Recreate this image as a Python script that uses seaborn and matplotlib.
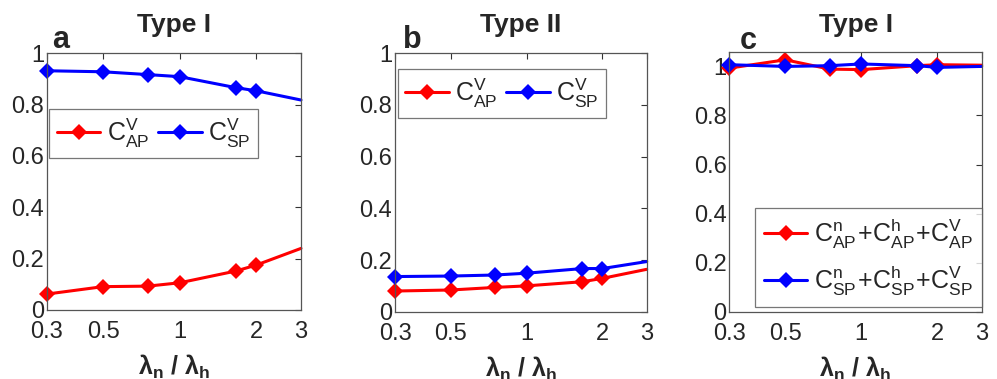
import numpy as np
import pandas as pd
import matplotlib
matplotlib.use('Agg')
import matplotlib.pyplot as plt
import seaborn as sns

# ratio lambda_n / lambda_h
ratio = [0.3, 0.5, 0.75, 1.0, 1.667, 2.0, 3.0]

# panel a (Type I)
a_ap = [0.062, 0.091, 0.093, 0.106, 0.152, 0.175, 0.240]
a_sp = [0.932, 0.928, 0.917, 0.909, 0.866, 0.854, 0.818]
# panel b (Type II)
b_ap = [0.080, 0.084, 0.094, 0.100, 0.116, 0.129, 0.164]
b_sp = [0.136, 0.138, 0.142, 0.149, 0.167, 0.167, 0.194]
# panel c (Type I, sums)
c_ap = [0.993, 1.027, 0.989, 0.987, 1.003, 1.007, 1.005]
c_sp = [1.007, 1.000, 1.003, 1.010, 1.003, 0.996, 1.000]

titles = ['Type I', 'Type II', 'Type I']
letters = ['a', 'b', 'c']
xticks = [0.3, 0.5, 1, 2, 3]
xticklabels = ['0.3', '0.5', '1', '2', '3']
yticks = [0, 0.2, 0.4, 0.6, 0.8, 1]
yticklabels = ['0', '0.2', '0.4', '0.6', '0.8', '1']

lab_v = [r'$\mathregular{C^V_{AP}}$', r'$\mathregular{C^V_{SP}}$']
lab_sum = [r'$\mathregular{C^n_{AP}\!+\!C^h_{AP}\!+\!C^V_{AP}}$',
           r'$\mathregular{C^n_{SP}\!+\!C^h_{SP}\!+\!C^V_{SP}}$']

sns.set_style('white')
plt.rcParams['font.family'] = ['Liberation Sans', 'DejaVu Sans']
plt.rcParams['mathtext.fontset'] = 'custom'
plt.rcParams['mathtext.rm'] = 'Liberation Sans'
plt.rcParams['mathtext.it'] = 'Liberation Sans:italic'
plt.rcParams['mathtext.bf'] = 'Liberation Sans:bold'

W, H = 997, 379
fig = plt.figure(figsize=(W / 100, H / 100), dpi=100)

# axes boxes in pixels: left, top, right, bottom
boxes = [(46.7, 53.3, 301.0, 310.0),
         (395.0, 53.3, 646.7, 311.7),
         (729.3, 51.7, 981.7, 311.7)]
ylims = [(0, 1), (0, 1), (0, 1.06)]
series = [(a_ap, a_sp, lab_v), (b_ap, b_sp, lab_v), (c_ap, c_sp, lab_sum)]
letter_pos = [(52, 48), (402.5, 48), (740, 49)]

for i, (l, t, r, b) in enumerate(boxes):
    ax = fig.add_axes([l / W, 1 - b / H, (r - l) / W, (b - t) / H])
    ap, sp, labs = series[i]
    df = pd.DataFrame({'ratio': ratio, 'ap': ap, 'sp': sp})
    for col, colr, lab in [('ap', '#ff0000', labs[0]), ('sp', '#0000ff', labs[1])]:
        sns.lineplot(data=df, x='ratio', y=col, ax=ax, color=colr, lw=2.2,
                     marker='D', markersize=8.5, markeredgewidth=0,
                     markevery=list(range(len(ratio) - 1)), clip_on=False,
                     label=lab)
    ax.set_xscale('log')
    ax.set_xlim(0.3, 3)
    ax.set_ylim(*ylims[i])
    ax.set_xticks(xticks)
    ax.set_xticklabels(xticklabels)
    ax.xaxis.set_minor_locator(matplotlib.ticker.NullLocator())
    ax.set_yticks(yticks)
    ax.set_yticklabels(yticklabels)
    ax.tick_params(direction='in', length=4, width=0.8, color='#333333',
                   labelsize=17, top=True, right=True)
    ax.tick_params(axis='x', pad=8)
    ax.tick_params(axis='y', pad=2)
    for s in ax.spines.values():
        s.set_color('#555555')
        s.set_linewidth(0.9)
    ax.set_ylabel('')
    ax.set_xlabel(r'$\mathbf{\lambda_n}$ / $\mathbf{\lambda_h}$',
                  fontsize=18, fontweight='bold', labelpad=7)

    if i < 2:
        bbox = (0.0, 0.792) if i == 0 else (0.0, 0.948)
        leg = ax.legend(loc='upper left', bbox_to_anchor=bbox, ncol=2,
                        fontsize=18, frameon=True, fancybox=False,
                        handlelength=1.75, columnspacing=0.35,
                        handletextpad=0.25, borderaxespad=0.1,
                        borderpad=0.3)
    else:
        leg = ax.legend(loc='lower right', bbox_to_anchor=(1.0, 0.02), ncol=1,
                        fontsize=18, frameon=True, fancybox=False,
                        handlelength=1.75, handletextpad=0.25,
                        labelspacing=0.5, borderaxespad=0.0, borderpad=0.35)
    leg.get_frame().set_edgecolor('#555555')
    leg.get_frame().set_linewidth(0.9)

    fig.text((l + r) / 2 / W, 1 - 32 / H, titles[i], ha='center',
             va='baseline', fontsize=19, fontweight='bold')
    lx, ly = letter_pos[i]
    fig.text(lx / W, 1 - ly / H, letters[i], ha='left', va='baseline',
             fontsize=22, fontweight='bold')

fig.savefig('out.png', dpi=100)
